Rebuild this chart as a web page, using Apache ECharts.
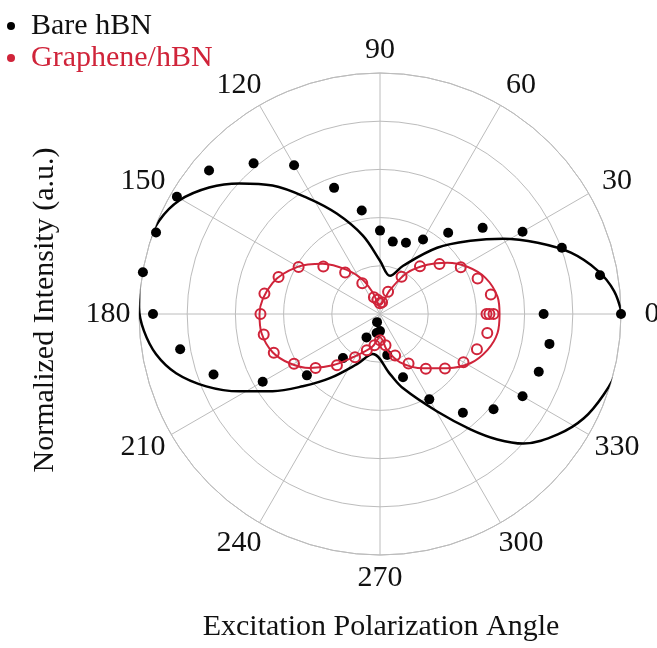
<!DOCTYPE html>
<html>
<head>
<meta charset="utf-8">
<script src="https://cdn.jsdelivr.net/npm/echarts@6/dist/echarts.min.js"></script>
<style>
html,body{margin:0;padding:0;background:#fff;}
#chart{width:657px;height:648px;}
</style>
</head>
<body>
<div id="chart"></div>
<script>
// ---- data ----
const angleTickLabels = [0, 30, 60, 90, 120, 150, 180, 210, 240, 270, 300, 330];

// Bare hBN measured points (angle in degrees, normalized intensity)
const bareAngles = [0, 10, 20, 30, 40, 50, 60, 70, 80, 90, 100, 110, 120, 130, 140, 150, 160, 170, 180,
  190, 200, 210, 220, 230, 240, 250, 260, 270, 280, 290, 300, 310, 320, 330, 340, 350, 360];
const bareValues = [1.0, 0.927, 0.803, 0.683, 0.556, 0.44, 0.357, 0.315, 0.305, 0.346, 0.436, 0.557, 0.713,
  0.816, 0.926, 0.973, 0.989, 0.999, 0.942, 0.842, 0.735, 0.562, 0.396, 0.239, 0.112, 0.036, 0.08, 0.071,
  0.173, 0.279, 0.409, 0.535, 0.615, 0.683, 0.701, 0.714, 0.679];

// Bare hBN fit curve
const bareFitAngles = [0, 5.6, 11.2, 17.8, 24.3, 31.4, 39, 49.2, 64.4, 75.3, 90, 102.3, 113.3, 122.2, 129.9,
  137.1, 143.5, 150.5, 157.1, 164.2, 171.5, 178.6, 184.1, 190.2, 196.2, 202.6, 208.8, 215.7, 223.1, 232,
  245.3, 260, 279.5, 287.3, 300.4, 308.1, 313.1, 317.9, 325.9, 332.9, 340.3, 347.2, 353.6, 360];
const bareFitValues = [1.004, 0.976, 0.922, 0.832, 0.718, 0.6, 0.483, 0.363, 0.222, 0.164, 0.221, 0.333,
  0.454, 0.571, 0.695, 0.796, 0.882, 0.957, 0.995, 1.009, 1.011, 1.0, 0.982, 0.944, 0.881, 0.781, 0.666,
  0.549, 0.439, 0.338, 0.229, 0.169, 0.253, 0.323, 0.469, 0.608, 0.713, 0.802, 0.891, 0.95, 0.987, 1.013,
  1.015, 1.004];

// Graphene/hBN measured points
const grAngles = [0, 10, 20, 30, 40, 50, 60, 70, 80, 90, 100, 110, 120, 130, 140, 150, 160, 170, 180,
  190, 200, 210, 220, 230, 240, 250, 260, 270, 280, 290, 300, 310, 320, 330, 340, 350, 360, 0];
const grValues = [0.454, 0.467, 0.431, 0.387, 0.322, 0.258, 0.179, 0.098, 0.05, 0.045, 0.06, 0.074, 0.147,
  0.225, 0.307, 0.39, 0.448, 0.487, 0.496, 0.49, 0.469, 0.412, 0.349, 0.278, 0.207, 0.16, 0.132, 0.109,
  0.132, 0.183, 0.237, 0.296, 0.352, 0.4, 0.428, 0.452, 0.442, 0.471];

// Graphene/hBN fit curve
const grFitAngles = [0, 8.3, 18.9, 28.4, 37.3, 46.2, 56.6, 67.4, 90, 108.4, 116.6, 126.9, 138.7, 150.2,
  163.8, 180, 189.1, 199.6, 208.6, 217.6, 227.3, 237.9, 256.4, 270, 281, 292.6, 308.5, 321.1, 331.4,
  341.4, 350.8, 360];
const grFitValues = [0.496, 0.493, 0.4625, 0.412, 0.351, 0.283, 0.205, 0.108, 0.0375, 0.092, 0.158, 0.229,
  0.316, 0.394, 0.464, 0.5, 0.498, 0.473, 0.427, 0.368, 0.289, 0.212, 0.141, 0.096, 0.153, 0.217, 0.288,
  0.358, 0.427, 0.47, 0.494, 0.496];

// ---- chart ----
const RED = '#d0243a';
const GRID = '#bcbcbc';
const FONT = '"Liberation Serif", "Times New Roman", serif';
const pairs = (rs, as) => rs.map((r, i) => [r, as[i]]);

const chart = echarts.init(document.getElementById('chart'), null, {renderer: 'canvas'});
chart.setOption({
  animation: false,
  backgroundColor: '#fff',
  legend: {
    orient: 'vertical', left: 2, top: 5,
    itemWidth: 30, itemHeight: 8, itemGap: 0, icon: 'circle',
    textStyle: {fontFamily: FONT, fontSize: 30, lineHeight: 32},
    data: [
      {name: 'Bare hBN', itemStyle: {color: '#000', borderWidth: 0, opacity: 1}, textStyle: {color: '#111'}},
      {name: 'Graphene/hBN', itemStyle: {color: RED, borderWidth: 0, opacity: 1}, textStyle: {color: RED}}
    ]
  },
  polar: {center: [380, 314], radius: 241},
  angleAxis: {
    type: 'value', min: 0, max: 360, interval: 30, startAngle: 0, clockwise: false,
    axisLine: {show: true, lineStyle: {color: GRID, width: 1}},
    axisTick: {show: false},
    splitLine: {show: true, lineStyle: {color: GRID, width: 1}},
    axisLabel: {
      margin: 21,
      formatter: function (v) { return angleTickLabels.indexOf(v) >= 0 ? '{a|' + v + '}' : ''; },
      rich: {a: {fontFamily: FONT, fontSize: 30, color: '#111', width: 20, height: 4, lineHeight: 4,
        align: 'center', verticalAlign: 'middle'}}
    }
  },
  radiusAxis: {
    type: 'value', min: 0, max: 1, interval: 0.2,
    axisLine: {show: false}, axisTick: {show: false}, axisLabel: {show: false},
    splitLine: {show: true, lineStyle: {color: GRID, width: 1}}
  },
  graphic: [
    {type: 'text', x: 45, y: 310, rotation: Math.PI / 2,
      style: {text: 'Normalized Intensity (a.u.)', font: '30px ' + FONT, fill: '#111', align: 'center', verticalAlign: 'middle'}},
    {type: 'text', x: 381, y: 627,
      style: {text: 'Excitation Polarization Angle', font: '30px ' + FONT, fill: '#111', align: 'center', verticalAlign: 'middle'}}
  ],
  series: [
    {name: 'Bare fit', type: 'line', coordinateSystem: 'polar', data: pairs(bareFitValues, bareFitAngles),
      smooth: 0.35, showSymbol: false, clip: false, lineStyle: {color: '#000', width: 2.5}, z: 2, silent: true},
    {name: 'Bare hBN', type: 'scatter', coordinateSystem: 'polar', data: pairs(bareValues, bareAngles),
      symbol: 'circle', symbolSize: 10, clip: false, itemStyle: {color: '#000', opacity: 1}, z: 3},
    {name: 'Graphene fit', type: 'line', coordinateSystem: 'polar', data: pairs(grFitValues, grFitAngles),
      smooth: 0.35, showSymbol: false, clip: false, lineStyle: {color: RED, width: 2}, z: 4, silent: true},
    {name: 'Graphene/hBN', type: 'scatter', coordinateSystem: 'polar', data: pairs(grValues, grAngles),
      symbol: 'circle', symbolSize: 10, clip: false,
      itemStyle: {color: 'rgba(255,255,255,0)', borderColor: RED, borderWidth: 2, opacity: 1}, z: 5}
  ]
});
</script>
</body>
</html>
